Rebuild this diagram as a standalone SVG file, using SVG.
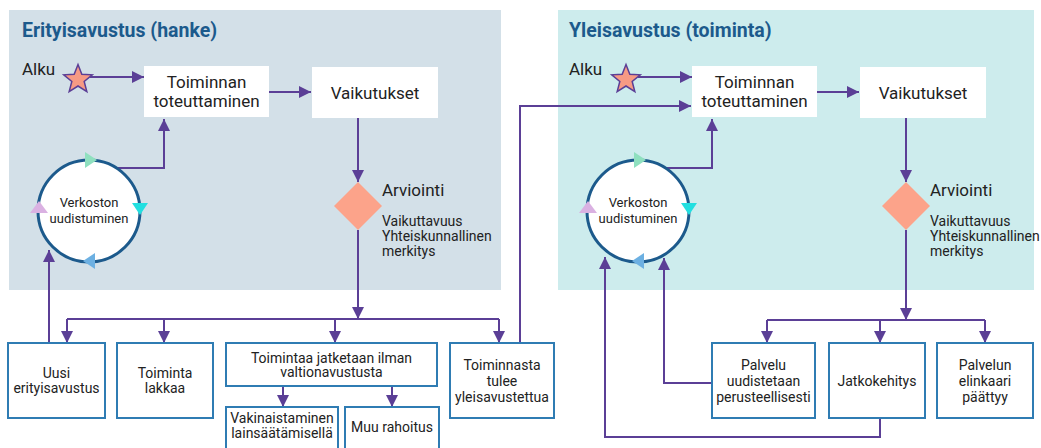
<svg xmlns="http://www.w3.org/2000/svg" width="1041" height="448" viewBox="0 0 1041 448">
<defs>
<marker id="ah" viewBox="0 0 12 12" refX="12" refY="6" markerWidth="12" markerHeight="12" markerUnits="userSpaceOnUse" orient="auto">
<path d="M0,0 L12,6 L0,12 z" fill="#5b3f96"/>
</marker>
<style>
.t{font-family:Roboto,"Liberation Sans",sans-serif;fill:#222}
.title{font-family:Roboto,"Liberation Sans",sans-serif;font-weight:bold;font-size:19.5px;fill:#1c5a8c}
.l17{font-size:17px}
.l14{font-size:14px}
.l13{font-size:13px}
.c{text-anchor:middle}
.box{fill:#fff;stroke:#2f7cb3;stroke-width:2}
.wbox{fill:#fff}
.ln{fill:none;stroke:#5b3f96;stroke-width:2}
.arr{fill:none;stroke:#5b3f96;stroke-width:2;marker-end:url(#ah)}
.star{fill:#f79a84;stroke:#5b3f96;stroke-width:1.5}
.dia{fill:#fca38a}
.circ{fill:#fff;stroke:#1c5a8c;stroke-width:3}
</style>
</defs>

<g id="panels">
<rect id="panel-left" x="9" y="10" width="492" height="280" fill="#d3e0e8"/>
<rect id="panel-right" x="558" y="10" width="476" height="280" fill="#cdeced"/>
<text class="title" x="22" y="37">Erityisavustus (hanke)</text>
<text class="title" x="569" y="37">Yleisavustus (toiminta)</text>
</g>

<g id="connectors">
<!-- left -->
<line class="arr" x1="90" y1="77" x2="144" y2="77"/>
<line class="arr" x1="269" y1="92" x2="311" y2="92"/>
<line class="arr" x1="358" y1="118" x2="358" y2="182"/>
<polyline class="ln" points="118,168 164,168 164,130"/>
<line class="arr" x1="164" y1="132" x2="164" y2="119"/>
<line class="arr" x1="358" y1="230" x2="358" y2="319"/>
<polyline class="ln" points="67,319 499,319"/>
<line class="arr" x1="67" y1="319" x2="67" y2="343"/>
<line class="arr" x1="164" y1="319" x2="164" y2="343"/>
<line class="arr" x1="335" y1="319" x2="335" y2="343"/>
<line class="arr" x1="499" y1="319" x2="499" y2="343"/>
<line class="arr" x1="283" y1="386" x2="283" y2="407"/>
<line class="arr" x1="392" y1="386" x2="392" y2="407"/>
<line class="arr" x1="49" y1="343" x2="49" y2="250"/>
<polyline class="arr" points="520,343 520,106 691,106"/>
<!-- right -->
<line class="arr" x1="638" y1="77" x2="692" y2="77"/>
<line class="arr" x1="817" y1="92" x2="859" y2="92"/>
<line class="arr" x1="906" y1="118" x2="906" y2="182"/>
<polyline class="ln" points="666,168 712,168 712,130"/>
<line class="arr" x1="712" y1="132" x2="712" y2="119"/>
<line class="arr" x1="906" y1="230" x2="906" y2="320"/>
<polyline class="ln" points="767,320 985,320"/>
<line class="arr" x1="767" y1="320" x2="767" y2="343"/>
<line class="arr" x1="880" y1="320" x2="880" y2="343"/>
<line class="arr" x1="985" y1="320" x2="985" y2="343"/>
<polyline class="arr" points="712,383 664,383 664,258"/>
<polyline class="arr" points="880,418 880,437 605,437 605,257"/>
</g>

<g id="start-left">
<polygon class="star" points="78,64.5 81.82,74.24 92.27,74.86 84.18,81.51 86.82,91.64 78,86 69.18,91.64 71.82,81.51 63.73,74.86 74.18,74.24"/>
<text class="t l17" x="22" y="75">Alku</text>
</g>
<g id="impl-left">
<rect class="wbox" x="144" y="66" width="125" height="51"/>
<text class="t l17 c" x="206.5" y="88">Toiminnan</text>
<text class="t l17 c" x="206.5" y="107">toteuttaminen</text>
</g>
<g id="effects-left">
<rect class="wbox" x="312" y="67" width="126" height="51"/>
<text class="t l17 c" x="375" y="99">Vaikutukset</text>
</g>
<g id="eval-left">
<polygon class="dia" points="358,182 382,206 358,230 334,206"/>
<text class="t l17" x="382" y="196">Arviointi</text>
<text class="t l14" x="382" y="226">Vaikuttavuus</text>
<text class="t l14" x="382" y="241">Yhteiskunnallinen</text>
<text class="t l14" x="382" y="256">merkitys</text>
</g>
<g id="network-left">
<circle class="circ" cx="89" cy="211" r="51"/>
<polygon points="85,152 97,160 85,168" fill="#8fe0bf"/>
<polygon points="132,203 148,203 140,215" fill="#22dfe0"/>
<polygon points="95,253 83,261 95,269" fill="#6cb0e2"/>
<polygon points="30,213 48,213 39,201" fill="#dab1e2"/>
<text class="t l13 c" x="89" y="207">Verkoston</text>
<text class="t l13 c" x="89" y="222.5">uudistuminen</text>
</g>
<g id="new-special">
<rect class="box" x="8" y="343" width="97" height="75"/>
<text class="t l14 c" x="56.5" y="378">Uusi</text>
<text class="t l14 c" x="56.5" y="393">erityisavustus</text>
</g>
<g id="ends">
<rect class="box" x="117" y="343" width="96" height="75"/>
<text class="t l14 c" x="165" y="378">Toiminta</text>
<text class="t l14 c" x="165" y="393">lakkaa</text>
</g>
<g id="continue">
<rect class="box" x="226" y="343" width="211" height="43"/>
<text class="t l14 c" x="331.5" y="363">Toimintaa jatketaan ilman</text>
<text class="t l14 c" x="331.5" y="377">valtionavustusta</text>
</g>
<g id="permanent">
<rect class="box" x="226" y="407" width="112" height="46"/>
<text class="t l14 c" x="282" y="423">Vakinaistaminen</text>
<text class="t l14 c" x="282" y="438">lainsäätämisellä</text>
</g>
<g id="other-funding">
<rect class="box" x="345" y="407" width="94" height="46"/>
<text class="t l14 c" x="392" y="432">Muu rahoitus</text>
</g>
<g id="becomes-general">
<rect class="box" x="450" y="343" width="104" height="75"/>
<text class="t l14 c" x="502" y="370">Toiminnasta</text>
<text class="t l14 c" x="502" y="386">tulee</text>
<text class="t l14 c" x="502" y="402">yleisavustettua</text>
</g>

<g id="start-right">
<polygon class="star" points="626,64.5 629.82,74.24 640.27,74.86 632.18,81.51 634.82,91.64 626,86 617.18,91.64 619.82,81.51 611.73,74.86 622.18,74.24"/>
<text class="t l17" x="569" y="75">Alku</text>
</g>
<g id="impl-right">
<rect class="wbox" x="692" y="66" width="125" height="51"/>
<text class="t l17 c" x="754.5" y="88">Toiminnan</text>
<text class="t l17 c" x="754.5" y="107">toteuttaminen</text>
</g>
<g id="effects-right">
<rect class="wbox" x="860" y="67" width="126" height="51"/>
<text class="t l17 c" x="923" y="99">Vaikutukset</text>
</g>
<g id="eval-right">
<polygon class="dia" points="906,182 930,206 906,230 882,206"/>
<text class="t l17" x="930" y="196">Arviointi</text>
<text class="t l14" x="930" y="226">Vaikuttavuus</text>
<text class="t l14" x="930" y="241">Yhteiskunnallinen</text>
<text class="t l14" x="930" y="256">merkitys</text>
</g>
<g id="network-right">
<circle class="circ" cx="638" cy="211" r="51"/>
<polygon points="634,152 646,160 634,168" fill="#8fe0bf"/>
<polygon points="681,203 697,203 689,215" fill="#22dfe0"/>
<polygon points="644,253 632,261 644,269" fill="#6cb0e2"/>
<polygon points="579,213 597,213 588,201" fill="#dab1e2"/>
<text class="t l13 c" x="638" y="207">Verkoston</text>
<text class="t l13 c" x="638" y="222.5">uudistuminen</text>
</g>
<g id="renew">
<rect class="box" x="712" y="343" width="103" height="75"/>
<text class="t l14 c" x="763.5" y="370">Palvelu</text>
<text class="t l14 c" x="763.5" y="386">uudistetaan</text>
<text class="t l14 c" x="763.5" y="402">perusteellisesti</text>
</g>
<g id="further-dev">
<rect class="box" x="829" y="343" width="96" height="75"/>
<text class="t l14 c" x="877" y="386">Jatkokehitys</text>
</g>
<g id="lifecycle-end">
<rect class="box" x="937" y="343" width="96" height="75"/>
<text class="t l14 c" x="985" y="370">Palvelun</text>
<text class="t l14 c" x="985" y="386">elinkaari</text>
<text class="t l14 c" x="985" y="402">päättyy</text>
</g>
</svg>
